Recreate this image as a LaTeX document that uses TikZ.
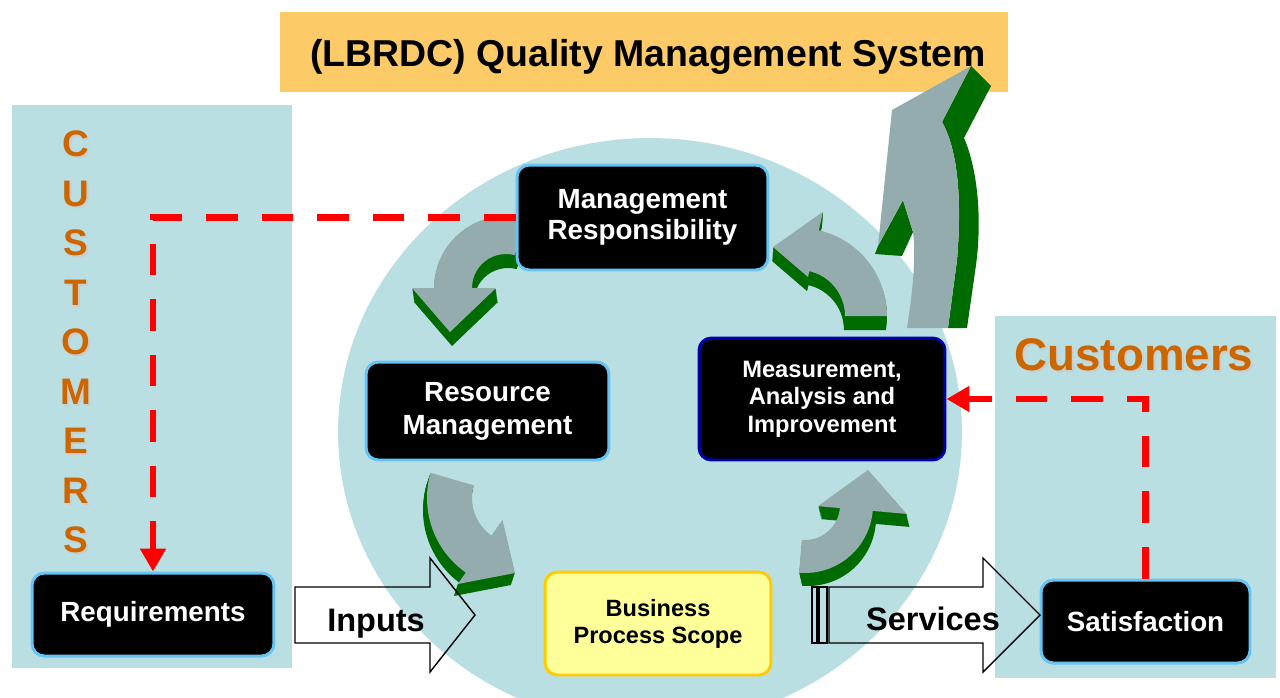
\documentclass[tikz,border=0pt]{standalone}
\usepackage{fontspec}
\setmainfont{Liberation Sans}
\usetikzlibrary{arrows.meta}
\usetikzlibrary{calc}

\definecolor{panelblue}{RGB}{185,223,227}
\definecolor{titleorange}{RGB}{253,202,104}
\definecolor{arrowgrey}{RGB}{148,172,174}
\definecolor{arrowgreen}{RGB}{0,107,0}
\definecolor{custorange}{RGB}{204,102,0}
\definecolor{boxedge}{RGB}{102,196,245}
\definecolor{measedge}{RGB}{0,0,170}
\definecolor{scopeyellow}{RGB}{255,255,153}
\definecolor{scopeedge}{RGB}{255,204,0}

% outer radius, inner radius, from, to, outer wing, inner wing, tip
\newcommand{\bentpath}[7]{plot[domain=#3:#4,samples=24] ({#1*cos(\x)},{#1*sin(\x)})
  -- ({#5*cos(#4)},{#5*sin(#4)}) -- (#7) -- ({#6*cos(#4)},{#6*sin(#4)})
  -- plot[domain=#4:#3,samples=24] ({#2*cos(\x)},{#2*sin(\x)}) -- cycle}
% centre, depth, shape
\newcommand{\bentarrow}[3]{\begin{scope}[shift={(#1)}]
  \foreach \k in {1,...,14} \fill[arrowSide, shift={($\k/14*(#2)$)}] \bentpath#3;
  \fill[arrowFace] \bentpath#3;
\end{scope}}

\begin{document}
\begin{tikzpicture}[x=0.02cm, y=-0.02cm,
        panel/.style = {fill=panelblue},
        arrowFace/.style = {fill=arrowgrey},
        arrowSide/.style = {fill=arrowgreen},
        titleBox/.style = {fill=titleorange,minimum width=14.56cm,minimum height=1.6cm,font=\bfseries\fontsize{21.3}{25}\selectfont},
        blackNode/.style = {fill=black,draw=boxedge,line width=1.7pt,rounded corners=7pt,text=white,align=center,inner sep=0pt,font=\bfseries\fontsize{15.8}{18}\selectfont},
        scopeNode/.style = {fill=scopeyellow,draw=scopeedge,line width=1.7pt,rounded corners=7pt,align=center,inner sep=0pt,font=\bfseries\fontsize{13.4}{15.3}\selectfont},
        redDash/.style = {draw=red,line width=3.7pt,dash pattern=on 18pt off 13.6pt,-{Triangle[length=13pt,width=14pt]}},
        blockArrow/.style = {draw=black,line width=0.8pt},
        flowText/.style = {font=\bfseries\fontsize{18.5}{22}\selectfont,anchor=base},
        letterText/.style = {text=custorange,font=\bfseries\fontsize{21}{25}\selectfont},
        letterShadow/.style = {text=black!20,font=\bfseries\fontsize{21}{25}\selectfont},
        custText/.style = {text=custorange,anchor=base,font=\bfseries\fontsize{26}{30}\selectfont},
        custShadow/.style = {text=black!20,anchor=base,font=\bfseries\fontsize{26}{30}\selectfont}
        ]
        \useasboundingbox (0,0) rectangle (1280,697);
        \clip (0,0) rectangle (1280,697);
        % background
        \fill[panel] (12,105) rectangle (292,668);
        \fill[panel] (995,316) rectangle (1276,678);
        \fill[panel] (650,432) ellipse [x radius=6.24cm, y radius=5.88cm];
        \node[titleBox] (title) at (644,52) {};
        \node[font=\bfseries\fontsize{21.3}{25}\selectfont,anchor=base] (titletext) at (648,66) {(LBRDC) Quality Management System};

        % cycle arrows
        \bentarrow{506,288}{2,14}{{72}{34}{285}{180}{94}{10}{-56,44}}
        \bentarrow{518,498}{-4,12}{{91}{46}{196}{125}{105}{27}{-3,75}}
        \bentarrow{805,505}{3,13}{{68}{35}{95}{5}{102}{13}{63,-35}}
        \bentarrow{799,316}{-1,14}{{88}{46}{360}{283}{107}{40}{-26,-69}}

        % big arrow up to the title
        \fill[arrowSide] (971,66) -- (991,86) -- (964,138) .. controls (978,170) and (982,220) .. (976,265)
            -- (967,328) -- (948,328) -- (957,260) .. controls (962,200) and (958,150) .. (942,122) -- cycle;
        \fill[arrowSide] (878,246) -- (875,254) -- (902,256) -- (913,232) -- (903,200) -- cycle;
        \fill[arrowFace] (907,328) .. controls (913,290) and (916,255) .. (913,232) -- (903,200) -- (878,246)
            -- (892,110) -- (971,66) -- (942,122) .. controls (958,150) and (962,200) .. (957,260) -- (948,328) -- cycle;

        % boxes
        \node[blackNode,minimum width=5.02cm,minimum height=2.1cm] (mgmt) at (642.5,217.5) {Management\\Responsibility};
        \node[blackNode,minimum width=4.86cm,minimum height=1.96cm,font=\bfseries\fontsize{15.8}{18.7}\selectfont] (res) at (487.5,411) {Resource\\Management};
        \node[blackNode,draw=measedge,minimum width=4.92cm,minimum height=2.44cm,font=\bfseries\fontsize{13.5}{15.6}\selectfont] (meas) at (822,399) {Measurement,\\Analysis and\\Improvement};
        \node[scopeNode,minimum width=4.52cm,minimum height=2.06cm] (bps) at (658,623.5) {Business\\Process Scope};
        \node[blackNode,minimum width=4.84cm,minimum height=1.66cm] (req) at (153,614.5) {Requirements};
        \node[blackNode,minimum width=4.18cm,minimum height=1.66cm] (sat) at (1145.5,621.5) {Satisfaction};

        % customers
        \foreach \ch [count=\i from 0] in {C,U,S,T,O,M,E,R,S} {
            \node[letterShadow] (ls\i) at (78,{146+49.5*\i}) {\ch};
            \node[letterText] (l\i) at (76,{144+49.5*\i}) {\ch};
        }
        \node[custShadow] (custs) at (1136,372) {Customers};
        \node[custText] (cust) at (1134,370) {Customers};

        % feedback lines
        \draw[redDash] (mgmt.west) -| (req.north);
        \draw[redDash] (sat.north) |- (meas.east);

        % inputs and services
        \draw[blockArrow] (295,587) -- (430,587) -- (430,558) -- (475,615) -- (430,672) -- (430,643) -- (295,643) -- cycle;
        \draw[blockArrow] (829,587) -- (983,587) -- (983,558) -- (1040,615) -- (983,672) -- (983,643) -- (829,643) -- cycle;
        \draw[blockArrow] (812,587) rectangle (817,643);
        \draw[blockArrow] (819,587) rectangle (827,643);
        \node[flowText] (inputs) at (376,631) {Inputs};
        \node[flowText] (services) at (933,630) {Services};
\end{tikzpicture}
\end{document}
